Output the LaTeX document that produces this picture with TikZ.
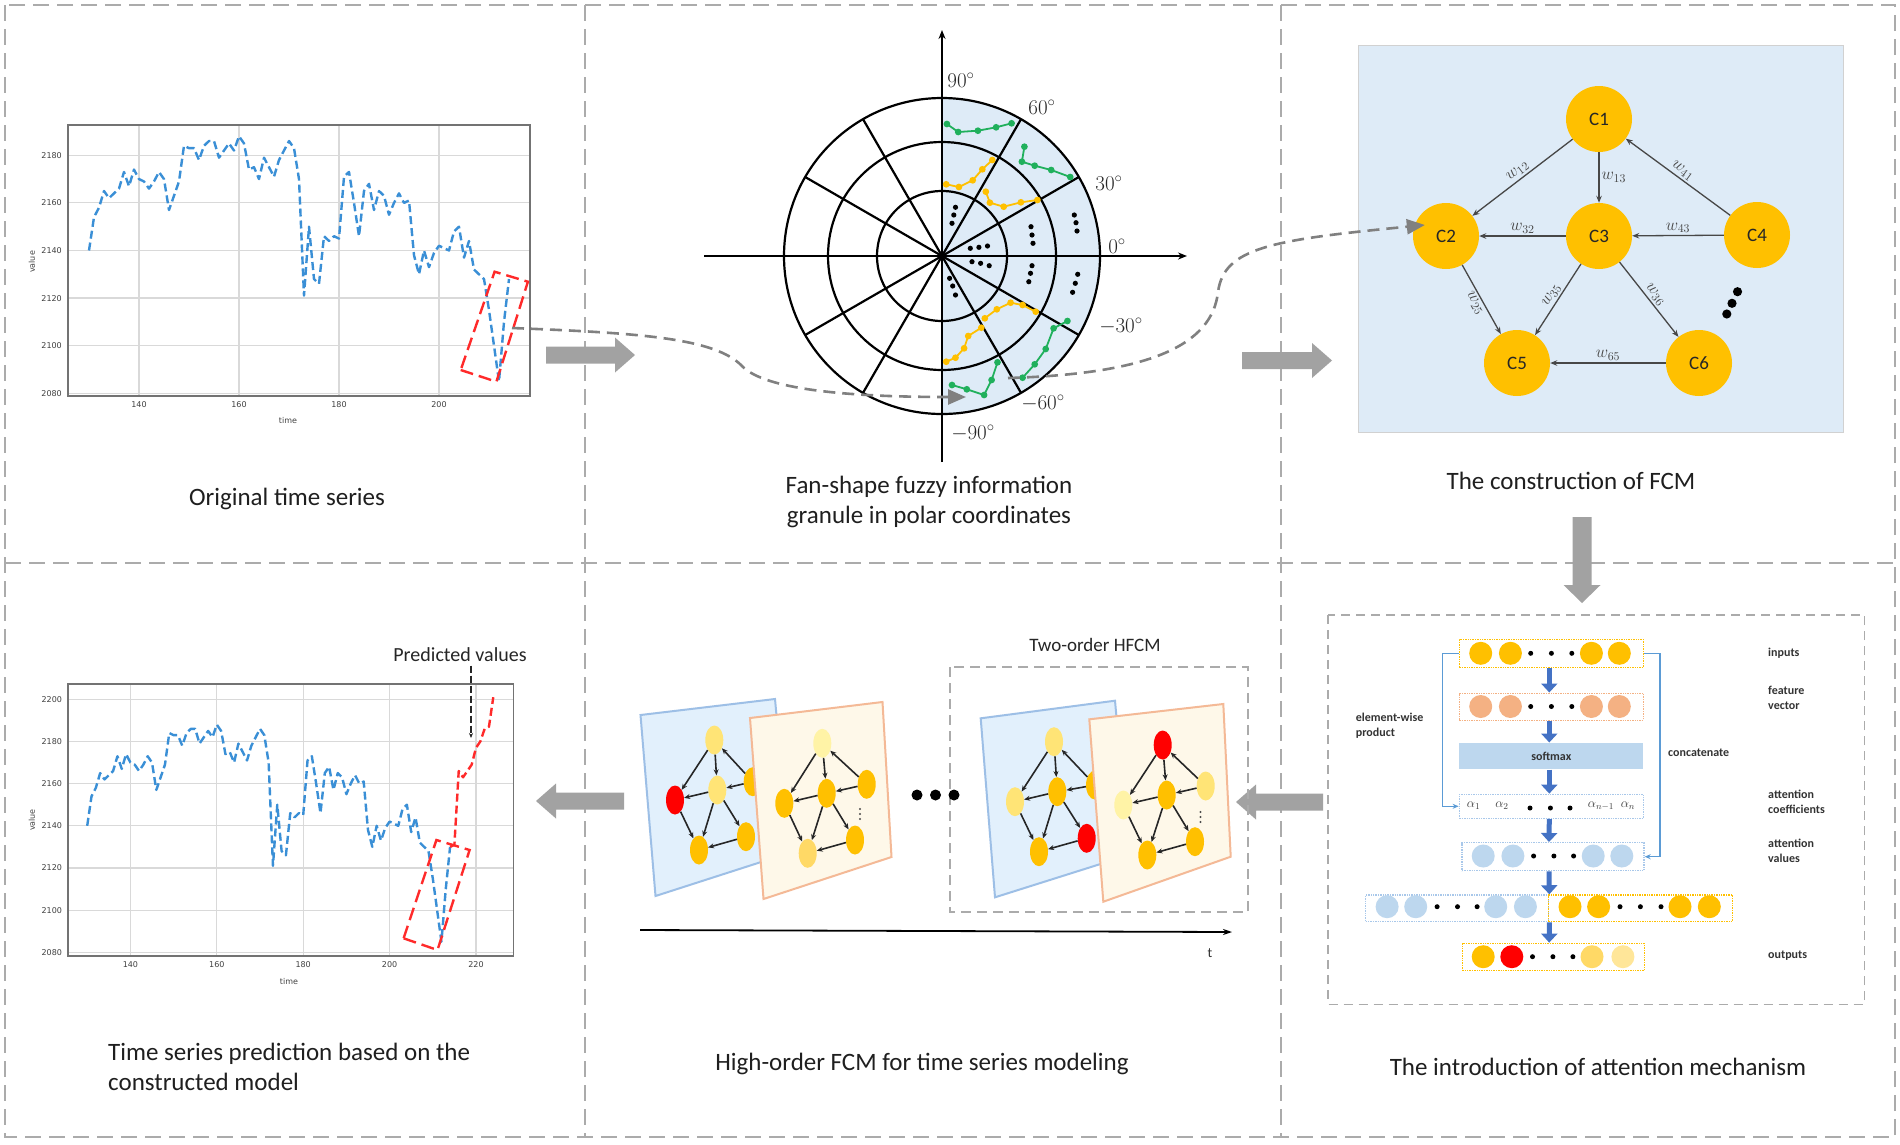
\RequirePackage{fix-cm}
\documentclass[tikz,border=0pt]{standalone}
\usepackage{fontspec}
\setmainfont{Carlito}
\newfontfamily\plotfont{DejaVu Sans}
\usetikzlibrary{arrows.meta,shapes.geometric,calc}
\definecolor{panelgray}{HTML}{ABABAB}
\definecolor{arrgray}{HTML}{A2A2A2}
\definecolor{fcmorange}{HTML}{FFC000}
\definecolor{panelblue}{HTML}{DEEBF7}
\definecolor{plotblue}{HTML}{3A8FD6}
\definecolor{predred}{HTML}{FF2A2A}
\definecolor{pgreen}{HTML}{20B05C}
\definecolor{attblue}{HTML}{4472C4}
\definecolor{linkblue}{HTML}{5B9BD5}
\definecolor{lightblue}{HTML}{BDD7EE}
\definecolor{dotblue}{HTML}{A9C8EA}
\definecolor{salmon}{HTML}{F4B183}
\definecolor{planeblue}{HTML}{E2F0FC}
\definecolor{planebluebd}{HTML}{9DBFE6}
\definecolor{planeor}{HTML}{FEF8E9}
\definecolor{planeorbd}{HTML}{F4B996}
\definecolor{ylw}{HTML}{FFE476}
\definecolor{pale}{HTML}{FFF3A6}
\definecolor{ylw2}{HTML}{FFD966}
\definecolor{ylw3}{HTML}{FFE699}

\newcommand\fatarrowH[4]{\fill[arrgray] (#1,#4-8.5) -- (#2,#4-8.5) -- (#2,#4-17.5) -- (#3,#4) -- (#2,#4+17.5) -- (#2,#4+8.5) -- (#1,#4+8.5) -- cycle;}
\newcommand\fatarrowV[4]{\fill[arrgray] (#1-9.5,#2) -- (#1+9.5,#2) -- (#1+9.5,#3) -- (#1+18.5,#3) -- (#1,#4) -- (#1-18.5,#3) -- (#1-9.5,#3) -- cycle;}
\newcommand\minigraph[1]{%
 \draw[medge] (#1t) -- (#1l);
 \draw[medge] (#1t) -- (#1m);
 \draw[medge] (#1r) -- (#1t);
 \draw[medge] (#1r) -- (#1m);
 \draw[medge] (#1m) -- (#1l);
 \draw[medge] (#1l) -- (#1b);
 \draw[medge] (#1m) -- (#1b);
 \draw[medge] (#1m) -- (#1br);
 \draw[medge] (#1br) -- (#1b);}

\begin{document}
\begin{tikzpicture}[x=1pt,y=-1pt,
  panel/.style={draw=panelgray,line width=2.2pt,dash pattern=on 16pt off 8pt},
  title/.style={font=\fontsize{25}{29.5}\selectfont,text=black!88,inner sep=0pt},
  tick/.style={font=\plotfont\fontsize{8}{8}\selectfont,text=black!75,inner sep=1pt},
  gridl/.style={draw=black!15,line width=1.2pt},
  frame/.style={draw=black!55,line width=1.5pt},
  series/.style={draw=plotblue,line width=2.4pt,dash pattern=on 8pt off 4pt,line join=round},
  predline/.style={draw=predred,line width=2.4pt,dash pattern=on 8pt off 4pt,line join=round},
  redbox/.style={draw=predred,line width=2.4pt,dash pattern=on 13pt off 6pt},
  pline/.style={draw=black,line width=2.2pt},
  plab/.style={font=\fontsize{21}{21}\selectfont,text=black!85,inner sep=1pt},
  curvec/.style={draw=black!50,line width=2.6pt,dash pattern=on 12pt off 7pt,-{Triangle[length=18pt,width=15pt]}},
  fcm/.style={circle,fill=fcmorange,minimum size=66pt,inner sep=0pt,font=\fontsize{19}{19}\selectfont,text=black!85},
  fedge/.style={draw=black!72,line width=1.3pt,-{Stealth[length=7pt,width=5.5pt]}},
  elab/.style={font=\fontsize{17}{17}\selectfont,text=black!72,inner sep=2pt},
  rowbox/.style={rectangle,densely dotted,line width=1.4pt,inner sep=0pt},
  acirc/.style={circle,minimum size=23pt,inner sep=0pt},
  adot/.style={circle,fill=black,minimum size=5pt,inner sep=0pt},
  bluearr/.style={draw=attblue,line width=5pt,-{Triangle[length=9pt,width=16pt]}},
  linkarr/.style={draw=linkblue,line width=1.4pt,-{Stealth[length=6pt,width=5pt]}},
  attlab/.style={font=\bfseries\fontsize{12}{15}\selectfont,text=black!80,inner sep=0pt},
  alab/.style={font=\fontsize{13}{13}\selectfont,text=black!75,inner sep=0pt},
  mnode/.style={ellipse,minimum width=18pt,minimum height=29pt,inner sep=0pt},
  medge/.style={draw=black!85,line width=1.6pt,-{Stealth[length=6pt,width=5pt]}},
  innerdash/.style={draw=panelgray,line width=1.6pt,dash pattern=on 9pt off 6pt}
]
\useasboundingbox (0,0) rectangle (1900,1144);
\fill[white] (0,0) rectangle (1900,1144);

% ---------- panel frame ----------
\draw[panel] (5,5) rectangle (1895,1137);
\draw[panel] (585,5) -- (585,1137);
\draw[panel] (1281,5) -- (1281,1137);
\draw[panel] (5,563) -- (1895,563);

% ---------- panel 1: original series ----------
\begin{scope}[shift={(-561,5343.7)},x=5pt,y=2.38pt]
  \foreach \t in {140,160,180,200} \draw[gridl] (\t,2078.9) -- (\t,2192.7);
  \foreach \v in {2080,2100,...,2180} \draw[gridl] (125.8,\v) -- (218.2,\v);
  \draw[frame] (125.8,2078.9) rectangle (218.2,2192.7);
  \foreach \t in {140,160,180,200} \node[tick,below=4pt] (ta\t) at (\t,2078.9) {\t};
  \foreach \v in {2080,2100,...,2180} \node[tick,left=5pt] (va\v) at (125.8,\v) {\v};
  \draw[series] plot coordinates {(130,2140) (131,2154) (132,2158) (133,2165) (134,2162) (135,2164) (136,2166) (137,2173) (138,2167) (139,2174) (140,2170) (141,2169) (142,2166) (143,2169) (144,2173) (145,2170) (146,2157) (147,2163) (148,2169) (149,2184) (150,2183) (151,2183) (152,2178) (153,2184) (154,2186) (155,2186) (156,2179) (157,2182) (158,2185) (159,2182) (160,2188) (161,2185) (162,2174) (163,2175) (164,2170) (165,2179) (166,2175) (167,2171) (168,2178) (169,2182) (170,2186) (171,2183) (172,2170) (173,2121) (174,2150) (175,2128) (176,2126) (177,2146) (178,2144) (179,2146) (180,2145) (181,2171) (182,2173) (183,2160) (184,2146) (185,2165) (186,2168) (187,2157) (188,2165) (189,2163) (190,2155) (191,2160) (192,2164) (193,2160) (194,2161) (195,2138) (196,2130) (197,2140) (198,2133) (199,2139) (200,2142) (201,2141) (202,2140) (203,2148) (204,2150) (205,2137) (206,2144) (207,2132) (208,2130) (209,2128) (210,2115) (211,2100) (212,2085) (213,2110) (214,2128)};
\end{scope}
\node[tick,rotate=90] (vl1) at (32,262) {value};
\node[tick] (tl1) at (288,421) {time};
\draw[redbox] (460.7,370) -- (496.4,381.7) -- (527.9,281.7) -- (494.6,271.7) -- cycle;
\coordinate (rb1) at (512,328);
\node[title] (t1) at (287,499) {Original time series};

% ---------- panel 2: polar ----------
\begin{scope}[shift={(942,256)},y=1pt]
  \fill[panelblue] (0,-158) arc[start angle=-90,end angle=90,radius=158] -- cycle;
  \foreach \r in {65,114,158} \draw[pline] (0,0) circle[radius=\r];
  \foreach \a in {30,60,120,150,210,240,300,330} \draw[pline] (0,0) -- (\a:158);
  \draw[pline,-{Stealth[length=9pt,width=7pt]}] (-238,0) -- (245,0);
  \draw[pline,-{Stealth[length=9pt,width=7pt]}] (0,-206) -- (0,226);
  \draw[pgreen,line width=1.8pt] plot[mark=*,mark size=2.4pt] coordinates {(4.9,132) (16.2,124) (35.9,125.3) (54.1,128.7) (69.6,132.7)};
  \draw[fcmorange,line width=1.8pt] plot[mark=*,mark size=2.4pt] coordinates {(4.2,71.7) (16.9,69) (30.7,75.7) (40.3,86.7) (50.3,96)};
  \draw[pgreen,line width=1.8pt] plot[mark=*,mark size=2.4pt] coordinates {(82.4,109.3) (79.9,94.3) (92.7,90.3) (109.2,86) (128.2,79)};
  \draw[fcmorange,line width=1.8pt] plot[mark=*,mark size=2.4pt] coordinates {(43.8,64.3) (47.9,53.3) (61.7,49.3) (78.9,53.7) (95.4,56)};
  \draw[fcmorange,line width=1.8pt] plot[mark=*,mark size=2.4pt] coordinates {(42.8,-62.3) (54.8,-53.3) (68.6,-46.7) (80.6,-49) (93.7,-55.7)};
  \draw[pgreen,line width=1.8pt] plot[mark=*,mark size=2.4pt] coordinates {(80.6,-121.7) (92.7,-108.3) (103.7,-93) (111.6,-72.3) (125.4,-65)};
  \draw[fcmorange,line width=1.8pt] plot[mark=*,mark size=2.4pt] coordinates {(4.2,-105.7) (13.5,-101.7) (22.1,-92.3) (26.2,-80) (39.3,-71.7)};
  \draw[pgreen,line width=1.8pt] plot[mark=*,mark size=2.4pt] coordinates {(10,-129) (24.8,-133.3) (42.1,-139) (49.6,-124) (55.5,-106.3)};
  \foreach \x/\y in {13.5/48.7,11.8/41,10/32.7, 28.3/7.7,36.9/8.7,45.5/10, 89/29.3,90/21,91/12.7, 132.3/41,134/33.3,135/25, 30/-5.7,38.6/-7.3,47.2/-9.7, 90/-9.7,88.5/-17.3,86.8/-25.7, 135.7/-18.3,133.3/-27.3,130.6/-36.3, 7.6/-22.3,10.7/-30,13.5/-39}
    \fill (\x,\y) circle[radius=2.6];
  \node[plab] (l90) at (19,176) {$90^{\circ}$};
  \node[plab] (l60) at (100,149) {$60^{\circ}$};
  \node[plab] (l30) at (167,73) {$30^{\circ}$};
  \node[plab] (l0) at (175,10) {$0^{\circ}$};
  \node[plab] (lm30) at (179,-70) {$-30^{\circ}$};
  \node[plab] (lm60) at (101,-147) {$-60^{\circ}$};
  \node[plab] (lm90) at (31,-177) {$-90^{\circ}$};
\end{scope}
\coordinate (polin) at (966,397);
\coordinate (polout) at (1008,378);
\node[title,align=center] (t2) at (929,502) {Fan-shape fuzzy information\\granule in polar coordinates};

% ---------- panel 3: FCM ----------
\fill[panelblue,draw=black!18,line width=1pt] (1358,45) rectangle (1843,432);
\node[fcm] (C1) at (1599,119) {C1};
\node[fcm] (C2) at (1446,236) {C2};
\node[fcm] (C3) at (1599,236) {C3};
\node[fcm] (C4) at (1757,235) {C4};
\node[fcm] (C5) at (1517,363) {C5};
\node[fcm] (C6) at (1699,363) {C6};
\draw[fedge] (C1) -- node[elab,sloped,above] {$w_{12}$} (C2);
\draw[fedge] (C1) -- node[elab,right] {$w_{13}$} (C3);
\draw[fedge] (C4) -- node[elab,sloped,above] {$w_{41}$} (C1);
\draw[fedge] (C3) -- node[elab,above] {$w_{32}$} (C2);
\draw[fedge] (C4) -- node[elab,above] {$w_{43}$} (C3);
\draw[fedge] (C2) -- node[elab,sloped,below] {$w_{25}$} (C5);
\draw[fedge] (C3) -- node[elab,sloped,above] {$w_{35}$} (C5);
\draw[fedge] (C3) -- node[elab,sloped,above] {$w_{36}$} (C6);
\draw[fedge] (C6) -- node[elab,above] {$w_{65}$} (C5);
\foreach \x/\y in {1737.5/291.7,1732/303.3,1726.8/314} \fill (\x,\y) circle[radius=4.6];
\node[title] (t3) at (1571,481) {The construction of FCM};

% dashed curved connectors
\draw[curvec] (rb1) .. controls (640,333) and (715,338) .. (742,366) .. controls (765,390) and (850,397) .. (polin);
\draw[curvec] (polout) .. controls (1150,374) and (1212,345) .. (1218,292) .. controls (1224,248) and (1270,240) .. ([shift={(12,-11)}]C2.west);

% grey block arrows
\fatarrowH{546}{615}{635}{355}
\fatarrowH{1242}{1312}{1332}{360.5}
\fatarrowV{1582}{517}{585}{603}
\fatarrowH{1323}{1256}{1236}{802}
\fatarrowH{624}{556}{536}{801}

% ---------- panel 6: attention ----------
\draw[innerdash] (1328,615) rectangle (1864.6,1004.3);
\node[rowbox,draw=fcmorange,minimum width=184pt,minimum height=28pt] (inrow) at (1551.3,653.3) {};
\foreach \x [count=\i] in {1480.7,1510.4,1591.4,1619.3} \node[acirc,fill=fcmorange] (in\i) at (\x,653.3) {};
\foreach \x [count=\i] in {1530.7,1551.4,1571.8} \node[adot] (ind\i) at (\x,653.3) {};

\node[rowbox,draw=salmon,minimum width=184pt,minimum height=27pt] (fvrow) at (1551.3,706.7) {};
\foreach \x [count=\i] in {1480.7,1510.4,1591.4,1619.3} \node[acirc,fill=salmon] (fv\i) at (\x,706.5) {};
\foreach \x [count=\i] in {1530.7,1551.4,1571.8} \node[adot] (fvd\i) at (\x,706.5) {};

\node[fill=lightblue,minimum width=184pt,minimum height=26.6pt,inner sep=0pt,font=\bfseries\fontsize{12}{12}\selectfont,text=black!80] (smax) at (1551.3,756) {softmax};

\node[rowbox,draw=dotblue,minimum width=184pt,minimum height=24pt] (acrow) at (1551.3,806.3) {};
\node[alab] (a1) at (1473.6,806) {$\alpha_1$};
\node[alab] (a2) at (1502,806) {$\alpha_2$};
\foreach \x [count=\i] in {1530,1550.4,1570} \node[adot] (acd\i) at (\x,808) {};
\node[alab] (an1) at (1601,806) {$\alpha_{n-1}$};
\node[alab] (an) at (1628,806) {$\alpha_n$};

\node[rowbox,draw=dotblue,minimum width=182pt,minimum height=28pt] (avrow) at (1553,856.7) {};
\foreach \x [count=\i] in {1483.2,1512.9,1593.2,1621.8} \node[acirc,fill=lightblue] (av\i) at (\x,856) {};
\foreach \x [count=\i] in {1533.6,1553.9,1573.6} \node[adot] (avd\i) at (\x,856) {};

\node[rowbox,draw=dotblue,minimum width=183pt,minimum height=26.7pt] (catL) at (1457.15,908.3) {};
\node[rowbox,draw=fcmorange,minimum width=184pt,minimum height=26.7pt] (catR) at (1640.55,908.3) {};
\foreach \x [count=\i] in {1387.1,1415.7,1495.7,1525.4} \node[acirc,fill=lightblue] (cl\i) at (\x,906.7) {};
\foreach \x [count=\i] in {1437.1,1457.5,1477.1} \node[adot] (cld\i) at (\x,906.7) {};
\foreach \x [count=\i] in {1570,1598.6,1680,1709.3} \node[acirc,fill=fcmorange] (cr\i) at (\x,906.7) {};
\foreach \x [count=\i] in {1620,1640.4,1661} \node[adot] (crd\i) at (\x,906.7) {};

\node[rowbox,draw=fcmorange,minimum width=182pt,minimum height=27.4pt] (outrow) at (1553.2,957) {};
\node[acirc,fill=fcmorange] (o1) at (1483.2,956.7) {};
\node[acirc,fill=red] (o2) at (1511.8,956.7) {};
\foreach \x [count=\i] in {1532.5,1552.9,1572.9} \node[adot] (od\i) at (\x,956.7) {};
\node[acirc,fill=ylw2] (o3) at (1592,956.7) {};
\node[acirc,fill=ylw3] (o4) at (1622.9,956.7) {};

\draw[bluearr] ([xshift=-2pt]inrow.south) -- ([xshift=-2pt]fvrow.north);
\draw[bluearr] ([xshift=-2pt]fvrow.south) -- ([xshift=-2pt]smax.north);
\draw[bluearr] ([xshift=-2pt]smax.south) -- ([xshift=-2pt]acrow.north);
\draw[bluearr] ([xshift=-2pt]acrow.south) -- ([xshift=-4pt]avrow.north);
\draw[bluearr] ([xshift=-4pt]avrow.south) -- (catL.north east);
\draw[bluearr] (catL.south east) -- ([xshift=-4pt]outrow.north);
\draw[linkarr] (inrow.west) -- ++(-16,0) |- (acrow.west);
\draw[linkarr] (inrow.east) -- ++(16,0) |- (avrow.east);

\node[attlab,anchor=west,align=left] (lew) at (1355.7,725.5) {element-wise\\product};
\node[attlab,anchor=west] (lcat) at (1668,752.7) {concatenate};
\node[attlab,anchor=west] (lin) at (1768,653.3) {inputs};
\node[attlab,anchor=west,align=left] (lfv) at (1768,698) {feature\\vector};
\node[attlab,anchor=west,align=left] (lac) at (1768,801.7) {attention\\coefficients};
\node[attlab,anchor=west,align=left] (lav) at (1768,851) {attention\\values};
\node[attlab,anchor=west] (lout) at (1768,956) {outputs};
\node[title] (t6) at (1598,1067) {The introduction of attention mechanism};

% ---------- panel 5: high-order FCM ----------
\node[font=\fontsize{19}{19}\selectfont,text=black!85] (two) at (1095,645) {Two-order HFCM};
\draw[innerdash,dash pattern=on 10pt off 6pt,line width=1.5pt] (950,667) rectangle (1248,912);
% plane 1
\filldraw[fill=planeblue,draw=planebluebd,line width=2pt] (640.5,715) -- (775,699) -- (789,853) -- (655.5,896) -- cycle;
\node[mnode,fill=ylw] (pat) at (714.3,740) {};
\node[mnode,fill=ylw] (pam) at (717.3,790) {};
\node[mnode,fill=red] (pal) at (675,800) {};
\node[mnode,fill=fcmorange] (par) at (752.7,781.7) {};
\node[mnode,fill=fcmorange] (pabr) at (746,836.7) {};
\node[mnode,fill=fcmorange] (pab) at (699,850) {};
\minigraph{pa}
% plane 2
\filldraw[fill=planeor,draw=planeorbd,line width=2pt] (750,718) -- (882.5,702) -- (891.5,857) -- (763.5,899) -- cycle;
\node[mnode,fill=pale] (pbt) at (822.3,743.3) {};
\node[mnode,fill=fcmorange] (pbm) at (826.7,793.3) {};
\node[mnode,fill=fcmorange] (pbl) at (784.3,803.3) {};
\node[mnode,fill=fcmorange] (pbr) at (866.7,784.3) {};
\node[mnode,fill=fcmorange] (pbbr) at (855,840) {};
\node[mnode,fill=ylw2] (pbb) at (807.7,853.3) {};
\minigraph{pb}
\foreach \y in {809,814,819} \fill[black!70] (860,\y) circle[radius=1.1];
% big dots
\foreach \x [count=\i] in {917,935.5,954} \node[circle,fill=black,minimum size=11pt,inner sep=0pt] (bd\i) at (\x,795) {};
% plane 3
\filldraw[fill=planeblue,draw=planebluebd,line width=2pt] (980.7,718.3) -- (1115,700.7) -- (1129,855) -- (995,897.3) -- cycle;
\node[mnode,fill=ylw] (pct) at (1054,741.7) {};
\node[mnode,fill=fcmorange] (pcm) at (1057.3,791.7) {};
\node[mnode,fill=ylw] (pcl) at (1015,801.7) {};
\node[mnode,fill=fcmorange] (pcr) at (1095,785) {};
\node[mnode,fill=red] (pcbr) at (1086.7,838.3) {};
\node[mnode,fill=fcmorange] (pcb) at (1039,851.7) {};
\minigraph{pc}
% plane 4
\filldraw[fill=planeor,draw=planeorbd,line width=2pt] (1089.3,719.3) -- (1223.3,704) -- (1230.7,856.7) -- (1103.3,901.7) -- cycle;
\node[mnode,fill=red] (pdt) at (1162.7,745) {};
\node[mnode,fill=fcmorange] (pdm) at (1166.7,795) {};
\node[mnode,fill=pale] (pdl) at (1123.3,805) {};
\node[mnode,fill=ylw] (pdr) at (1205.7,786) {};
\node[mnode,fill=fcmorange] (pdbr) at (1195,841.7) {};
\node[mnode,fill=fcmorange] (pdb) at (1147.3,855) {};
\minigraph{pd}
\foreach \y in {812,817,822} \fill[black!70] (1200.5,\y) circle[radius=1.1];
% time axis
\coordinate (ta0) at (640,930);
\coordinate (ta1) at (1232,932);
\draw[draw=black,line width=1.8pt,-{Stealth[length=9pt,width=6pt]}] (ta0) -- (ta1);
\node[font=\fontsize{14}{14}\selectfont,text=black!80] (tlab) at (1210,953) {t};
\node[title] (t5) at (922,1064) {High-order FCM for time series modeling};

% ---------- panel 4: prediction ----------
\begin{scope}[shift={(-474.4,5336.9)},x=4.32pt,y=2.108pt]
  \foreach \t in {140,160,180,200,220} \draw[gridl] (\t,2078.2) -- (\t,2207.2);
  \foreach \v in {2080,2100,...,2200} \draw[gridl] (125.6,\v) -- (228.7,\v);
  \draw[frame] (125.6,2078.2) rectangle (228.7,2207.2);
  \foreach \t in {140,160,180,200,220} \node[tick,below=4pt] (tb\t) at (\t,2078.2) {\t};
  \foreach \v in {2080,2100,...,2200} \node[tick,left=5pt] (vb\v) at (125.6,\v) {\v};
  \draw[series] plot coordinates {(130,2140) (131,2154) (132,2158) (133,2165) (134,2162) (135,2164) (136,2166) (137,2173) (138,2167) (139,2174) (140,2170) (141,2169) (142,2166) (143,2169) (144,2173) (145,2170) (146,2157) (147,2163) (148,2169) (149,2184) (150,2183) (151,2183) (152,2178) (153,2184) (154,2186) (155,2186) (156,2179) (157,2182) (158,2185) (159,2182) (160,2188) (161,2185) (162,2174) (163,2175) (164,2170) (165,2179) (166,2175) (167,2171) (168,2178) (169,2182) (170,2186) (171,2183) (172,2170) (173,2121) (174,2150) (175,2128) (176,2126) (177,2146) (178,2144) (179,2146) (180,2145) (181,2171) (182,2173) (183,2160) (184,2146) (185,2165) (186,2168) (187,2157) (188,2165) (189,2163) (190,2155) (191,2160) (192,2164) (193,2160) (194,2161) (195,2138) (196,2130) (197,2140) (198,2133) (199,2139) (200,2142) (201,2141) (202,2140) (203,2148) (204,2150) (205,2137) (206,2144) (207,2132) (208,2130) (209,2128) (210,2115) (211,2100) (212,2085) (213,2110) (214,2130)};
  \draw[predline] plot coordinates {(214,2130) (215,2131) (216,2166) (217,2163) (218,2166) (219,2169) (220,2177) (221,2180) (222,2186) (223,2187) (224,2201)};
\end{scope}
\node[tick,rotate=90] (vl2) at (32,820) {value};
\node[tick] (tl2) at (289,982) {time};
\draw[redbox] (403.6,938.3) -- (437.5,950) -- (469.6,850) -- (436.4,840) -- cycle;
\node[font=\fontsize{20}{20}\selectfont,text=black!85] (pv) at (460,655) {Predicted values};
\coordinate (pvend) at (471,738);
\draw[draw=black!85,line width=1.1pt,dash pattern=on 7pt off 3pt,-{Stealth[length=5pt,width=4pt]}] (pv.south -| pvend) -- (pvend);
\node[title,align=left,anchor=west] (t4) at (108,1067) {Time series prediction based on the\\constructed model};

\end{tikzpicture}
\end{document}
